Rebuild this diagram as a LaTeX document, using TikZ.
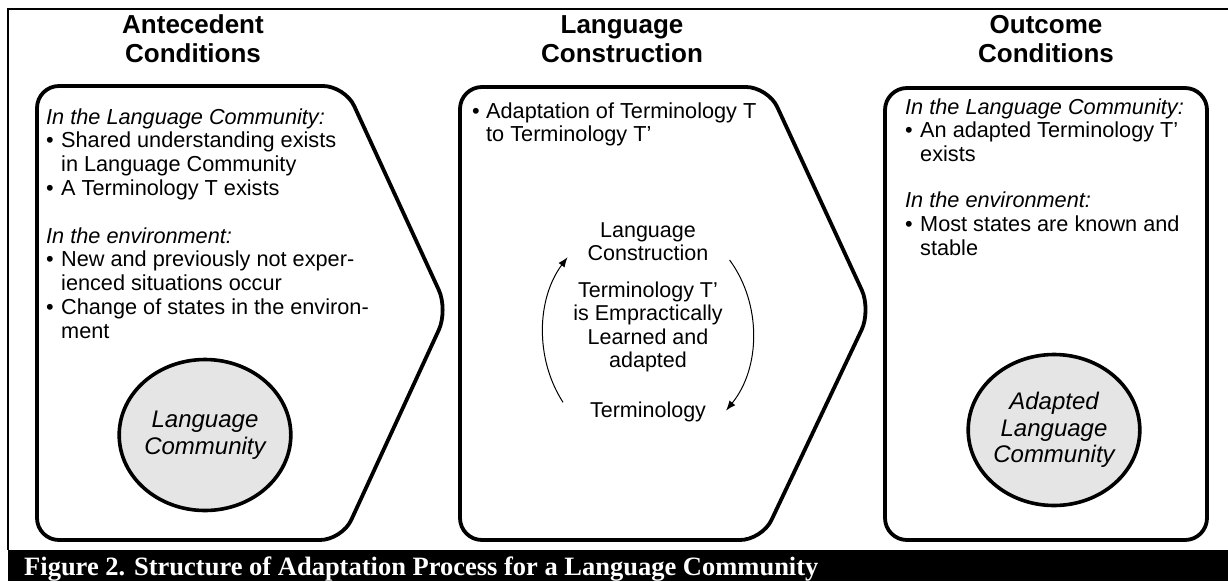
\documentclass[tikz,border=0pt]{standalone}
\usepackage{fontspec}
\setmainfont{Liberation Sans}
\newfontfamily\capfont{Liberation Serif}
\usetikzlibrary{shapes.geometric,arrows.meta}
\tikzset{
  stage/.style={line width=3.8pt, rounded corners=22pt, line join=round},
  frame/.style={line width=2.6pt},
  hdr/.style={inner sep=0pt, anchor=base, font=\fontsize{26}{29}\selectfont\bfseries},
  body/.style={inner sep=0pt, anchor=base west, font=\fontsize{21.7}{23.8}\selectfont},
  ctext/.style={inner sep=0pt, anchor=base, font=\fontsize{21.5}{23.5}\selectfont},
  comm/.style={ellipse, draw, line width=3.6pt, fill=black!10, inner sep=0pt,
    minimum width=168pt, minimum height=151pt, align=center,
    font=\fontsize{24}{26.5}\selectfont\itshape},
  cycarrow/.style={line width=1pt, -{Latex[length=10pt,width=7.5pt]}},
}
\begin{document}
\begin{tikzpicture}[x=1pt,y=-1pt]
\useasboundingbox (0,0) rectangle (1228,581);
% frame and caption bar
\draw[frame] (8,550) -- (8,9) -- (1228,9);
\fill[black] (8,550) rectangle (1228,581);
\node[anchor=base west, inner sep=0pt, text=white,
  font=\capfont\bfseries\fontsize{26.5}{30}\selectfont] (cap) at (24,575)
  {Figure 2. Structure of Adaptation Process for a Language Community};
% headers
\node[hdr] (h1) at (193,33) {\begin{tabular}[t]{@{}c@{}}Antecedent\\Conditions\end{tabular}};
\node[hdr] (h2) at (622,33) {\begin{tabular}[t]{@{}c@{}}Language\\Construction\end{tabular}};
\node[hdr] (h3) at (1046,33) {\begin{tabular}[t]{@{}c@{}}Outcome\\Conditions\end{tabular}};
% stage shapes
\draw[stage] (37,300) -- (37,86) -- (345,86) -- (448,310) -- (342,540) -- (37,540) -- cycle;
\draw[stage] (460,300) -- (460,87) -- (768,87) -- (871,310) -- (762,540) -- (460,540) -- cycle;
\draw[stage] (885,300) -- (885,88) -- (1207,88) -- (1207,540) -- (885,540) -- cycle;
% box 1 text
\node[body] (t1) at (46,124) {\begin{tabular}[t]{@{}p{15pt}@{}l@{}}
\multicolumn{2}{@{}l@{}}{\itshape In the Language Community:}\\
\textbullet & Shared understanding exists\\
 & in Language Community\\
\textbullet & A Terminology T exists\\[23.8pt]
\multicolumn{2}{@{}l@{}}{\itshape In the environment:}\\
\textbullet & New and previously not exper-\\
 & ienced situations occur\\
\textbullet & Change of states in the environ-\\
 & ment
\end{tabular}};
\node[comm] (lcom) at (205,435) {Language\\Community};
% box 2 text
\node[body] (t2) at (472,118) {\begin{tabular}[t]{@{}p{14pt}@{}l@{}}
\textbullet & Adaptation of Terminology T\\
 & to Terminology T’
\end{tabular}};
\node[ctext] (lc) at (648,237) {\begin{tabular}[t]{@{}c@{}}Language\\Construction\end{tabular}};
\node[ctext] (tt) at (648,297) {\begin{tabular}[t]{@{}c@{}}Terminology T’\\is Empractically\\Learned and\\adapted\end{tabular}};
\node[ctext] (term) at (648,417) {Terminology};
\coordinate (cyc) at (648,333);
\draw[cycarrow] (cyc) ++(144:105 and 118) arc[start angle=144, end angle=220, x radius=105, y radius=118];
\draw[cycarrow] (cyc) ++(-39:105 and 116) arc[start angle=-39, end angle=42, x radius=105, y radius=116];
% box 3 text
\node[body] (t3) at (905,114) {\begin{tabular}[t]{@{}p{15pt}@{}l@{}}
\multicolumn{2}{@{}l@{}}{\itshape In the Language Community:}\\
\textbullet & An adapted Terminology T’\\
 & exists\\[22pt]
\multicolumn{2}{@{}l@{}}{\itshape In the environment:}\\
\textbullet & Most states are known and\\
 & stable
\end{tabular}};
\node[comm] (acom) at (1054,430) {Adapted\\Language\\Community};
\end{tikzpicture}
\end{document}
